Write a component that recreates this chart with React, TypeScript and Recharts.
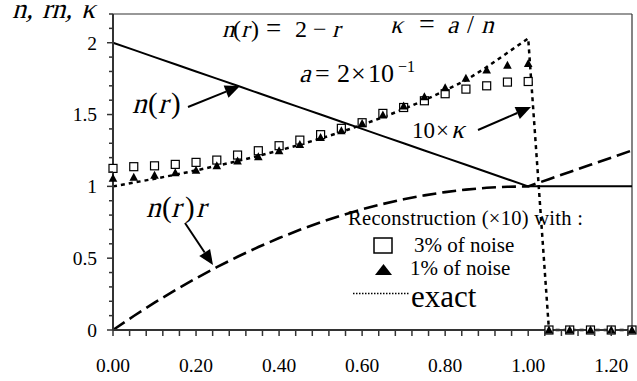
import React from 'react'
import { LineChart, Line, XAxis, YAxis, ReferenceLine } from 'recharts'

// radius grid (step 0.05)
const rValues = [
  0, 0.05, 0.1, 0.15, 0.2, 0.25, 0.3, 0.35, 0.4, 0.45, 0.5, 0.55, 0.6, 0.65, 0.7,
  0.75, 0.8, 0.85, 0.9, 0.95, 1, 1.05, 1.1, 1.15, 1.2, 1.25,
]
// n(r) = 2 - r inside, 1 outside
const nValues = [
  2, 1.95, 1.9, 1.85, 1.8, 1.75, 1.7, 1.65, 1.6, 1.55, 1.5, 1.45, 1.4, 1.35, 1.3,
  1.25, 1.2, 1.15, 1.1, 1.05, 1, 1, 1, 1, 1, 1,
]
// n(r) * r
const nrValues = [
  0, 0.0975, 0.19, 0.2775, 0.36, 0.4375, 0.51, 0.5775, 0.64, 0.6975, 0.75, 0.7975,
  0.84, 0.8775, 0.91, 0.9375, 0.96, 0.9775, 0.99, 0.9975, 1, 1.05, 1.1, 1.15, 1.2, 1.25,
]
// exact 10 x kappa
const exactValues = [
  1, 1.026, 1.053, 1.081, 1.111, 1.143, 1.176, 1.212, 1.25, 1.29, 1.333, 1.379,
  1.429, 1.481, 1.538, 1.6, 1.667, 1.739, 1.83, 1.93, 2.03, 0, 0, 0, 0, 0,
]
// reconstruction, 3% noise (squares)
const noise3Values = [
  1.125, 1.137, 1.143, 1.153, 1.167, 1.183, 1.218, 1.248, 1.283, 1.322, 1.36, 1.404,
  1.443, 1.508, 1.549, 1.596, 1.645, 1.677, 1.7, 1.726, 1.73, 0, 0, 0, 0, 0,
]
// reconstruction, 1% noise (triangles)
const noise1Values = [
  1.056, 1.063, 1.078, 1.095, 1.113, 1.143, 1.176, 1.206, 1.248, 1.292, 1.34, 1.387,
  1.438, 1.496, 1.559, 1.624, 1.686, 1.752, 1.81, 1.844, 1.856, 0, 0, 0, 0, 0,
]

const xTicks = Array.from({ length: 32 }, (_, i) => +(i * 0.04).toFixed(2))
const yTicks = Array.from({ length: 23 }, (_, i) => +(i * 0.1).toFixed(1))

const data = rValues.map((r, i) => ({
  r,
  n: nValues[i],
  nr: nrValues[i],
  exact: exactValues[i],
  noise3: noise3Values[i],
  noise1: noise1Values[i],
}))

const FONT = "'Liberation Serif', 'Times New Roman', serif"
const INK = '#000'
const AXIS = '#333'

function YTick({ x, y, payload }: any) {
  const v = payload.value
  const major = Math.abs(v * 2 - Math.round(v * 2)) < 1e-6
  return (
    <g>
      <line x1={x} x2={x - (major ? 6 : 4)} y1={y} y2={y} stroke={AXIS} strokeWidth={1.5} />
      {major && (
        <text x={x - 16} y={y} dy="0.35em" textAnchor="end" fontSize={19.5} fontFamily={FONT} fill={INK}>
          {String(v)}
        </text>
      )}
    </g>
  )
}

function XTick({ x, y, payload, index }: any) {
  const major = index % 5 === 0
  return (
    <g>
      <line x1={x} x2={x} y1={y} y2={y + 6} stroke={AXIS} strokeWidth={1.5} />
      {major && (
        <text x={x} y={y + 42} textAnchor="middle" fontSize={19.5} fontFamily={FONT} fill={INK}>
          {payload.value.toFixed(2)}
        </text>
      )}
    </g>
  )
}

function Square({ cx, cy, index }: any) {
  if (cx == null || cy == null) return <g key={index} />
  return <rect key={index} x={cx - 4} y={cy - 4} width={8} height={8} fill="#fff" stroke={INK} strokeWidth={1.2} />
}

function Triangle({ cx, cy, index }: any) {
  if (cx == null || cy == null) return <g key={index} />
  return (
    <polygon
      key={index}
      points={`${cx},${cy - 4.5} ${cx - 4.3},${cy + 3.5} ${cx + 4.3},${cy + 3.5}`}
      fill={INK}
    />
  )
}

function Arrow({ x1, y1, x2, y2 }: { x1: number; y1: number; x2: number; y2: number }) {
  const len = Math.hypot(x2 - x1, y2 - y1)
  const ux = (x2 - x1) / len
  const uy = (y2 - y1) / len
  const head = 15
  const half = 6.5
  const bx = x2 - ux * head
  const by = y2 - uy * head
  return (
    <g>
      <line x1={x1} y1={y1} x2={bx} y2={by} stroke={INK} strokeWidth={2} />
      <polygon
        points={`${x2},${y2} ${bx - uy * half},${by + ux * half} ${bx + uy * half},${by - ux * half}`}
        fill={INK}
      />
    </g>
  )
}

// one piece of a formula: [text, x, italic?, size?]
type Piece = [string, number, boolean?, number?]

// formulas are laid out piece by piece; italic letters are slanted roman glyphs
function Formula({ y, size, parts }: { y: number; size: number; parts: Piece[] }) {
  return (
    <g fontSize={size}>
      {parts.map(([t, x, italic, s], i) =>
        italic ? (
          <text key={i} transform={`translate(${x},${y}) skewX(-15)`} fontSize={s}>
            {t}
          </text>
        ) : (
          <text key={i} x={x} y={y} fontSize={s}>
            {t}
          </text>
        ),
      )}
    </g>
  )
}

function Annotations() {
  return (
    <svg
      width={637}
      height={381}
      style={{ position: 'absolute', left: 0, top: 0, pointerEvents: 'none' }}
      fontFamily={FONT}
      fill={INK}
    >
      <Formula
        y={18}
        size={28}
        parts={[
          ['n,', 12, true],
          ['rn,', 42, true],
          ['κ', 81, true],
        ]}
      />

      <Formula
        y={37}
        size={24}
        parts={[
          ['n', 222, true],
          ['(', 233],
          ['r', 241, true],
          [')', 251],
          ['=', 266, false, 27],
          ['2', 295],
          ['−', 313],
          ['r', 332, true],
        ]}
      />
      <Formula
        y={33}
        size={25}
        parts={[
          ['κ', 390, true],
          ['=', 419, false, 28],
          ['a', 447, true],
          ['/', 467],
          ['n', 481, true],
        ]}
      />
      <Formula
        y={82}
        size={26}
        parts={[
          ['a', 299, true],
          ['=', 315],
          ['2', 337],
          ['×', 351],
          ['10', 368],
        ]}
      />
      <Formula y={72} size={16} parts={[['−1', 398]]} />

      <Formula
        y={113}
        size={29}
        parts={[
          ['n', 132, true],
          ['(', 148],
          ['r', 158, true],
          [')', 171],
        ]}
      />
      <Arrow x1={188} y1={107} x2={240} y2={86} />

      <Formula
        y={138}
        size={23}
        parts={[
          ['10', 412],
          ['×', 436],
          ['κ', 451, true, 26],
        ]}
      />
      <Arrow x1={478} y1={130} x2={531} y2={107} />

      <Formula
        y={217}
        size={29}
        parts={[
          ['n', 146, true],
          ['(', 162],
          ['r', 171, true],
          [')', 185],
          ['r', 196, true],
        ]}
      />
      <Arrow x1={185} y1={223} x2={213} y2={265} />

      {/* legend */}
      <text x={348} y={225} fontSize={20.5} textLength={235} lengthAdjust="spacing">
        Reconstruction (×10) with :
      </text>
      <rect x={374} y={238} width={18} height={15} fill="none" stroke={INK} strokeWidth={1.5} />
      <text x={414} y={252} fontSize={21}>
        3% of noise
      </text>
      <polygon points="383.5,264 375,275 392,275" fill={INK} />
      <text x={410} y={275} fontSize={21}>
        1% of noise
      </text>
      <line x1={353} x2={410} y1={293.5} y2={293.5} stroke={INK} strokeWidth={1.5} strokeDasharray="1.5 1.5" />
      <text x={411} y={307} fontSize={31}>
        exact
      </text>
    </svg>
  )
}

export default function App() {
  return (
    <div style={{ position: 'fixed', left: 0, top: 0, width: 637, height: 381, background: '#fff' }}>
      <LineChart width={637} height={381} data={data} margin={{ top: 14, right: 5, left: 0, bottom: 0 }}>
        <XAxis
          dataKey="r"
          type="number"
          domain={[0, 1.25]}
          ticks={xTicks}
          height={51}
          tickSize={0}
          tickMargin={0}
          tickLine={false}
          tick={<XTick />}
          axisLine={{ stroke: AXIS, strokeWidth: 2 }}
          interval={0}
        />
        <YAxis
          type="number"
          domain={[0, 2.2]}
          ticks={yTicks}
          width={113}
          tickSize={0}
          tickMargin={0}
          tickLine={false}
          tick={<YTick />}
          axisLine={{ stroke: AXIS, strokeWidth: 2 }}
          interval={0}
        />
        <ReferenceLine y={2.2} stroke={AXIS} strokeWidth={1.2} />
        <ReferenceLine x={1.25} stroke={AXIS} strokeWidth={1.2} />

        <Line dataKey="n" type="linear" stroke={INK} strokeWidth={2} dot={false} isAnimationActive={false} />
        <Line
          dataKey="nr"
          type="linear"
          stroke={INK}
          strokeWidth={2.6}
          strokeDasharray="14 6"
          dot={false}
          isAnimationActive={false}
        />
        <Line
          dataKey="noise3"
          type="linear"
          stroke="none"
          dot={(p: any) => <Square key={p.index} {...p} />}
          isAnimationActive={false}
        />
        <Line
          dataKey="exact"
          type="linear"
          stroke={INK}
          strokeWidth={2.5}
          strokeDasharray="4 4"
          dot={false}
          isAnimationActive={false}
        />
        <Line
          dataKey="noise1"
          type="linear"
          stroke="none"
          dot={(p: any) => <Triangle key={p.index} {...p} />}
          isAnimationActive={false}
        />
      </LineChart>
      <Annotations />
    </div>
  )
}
